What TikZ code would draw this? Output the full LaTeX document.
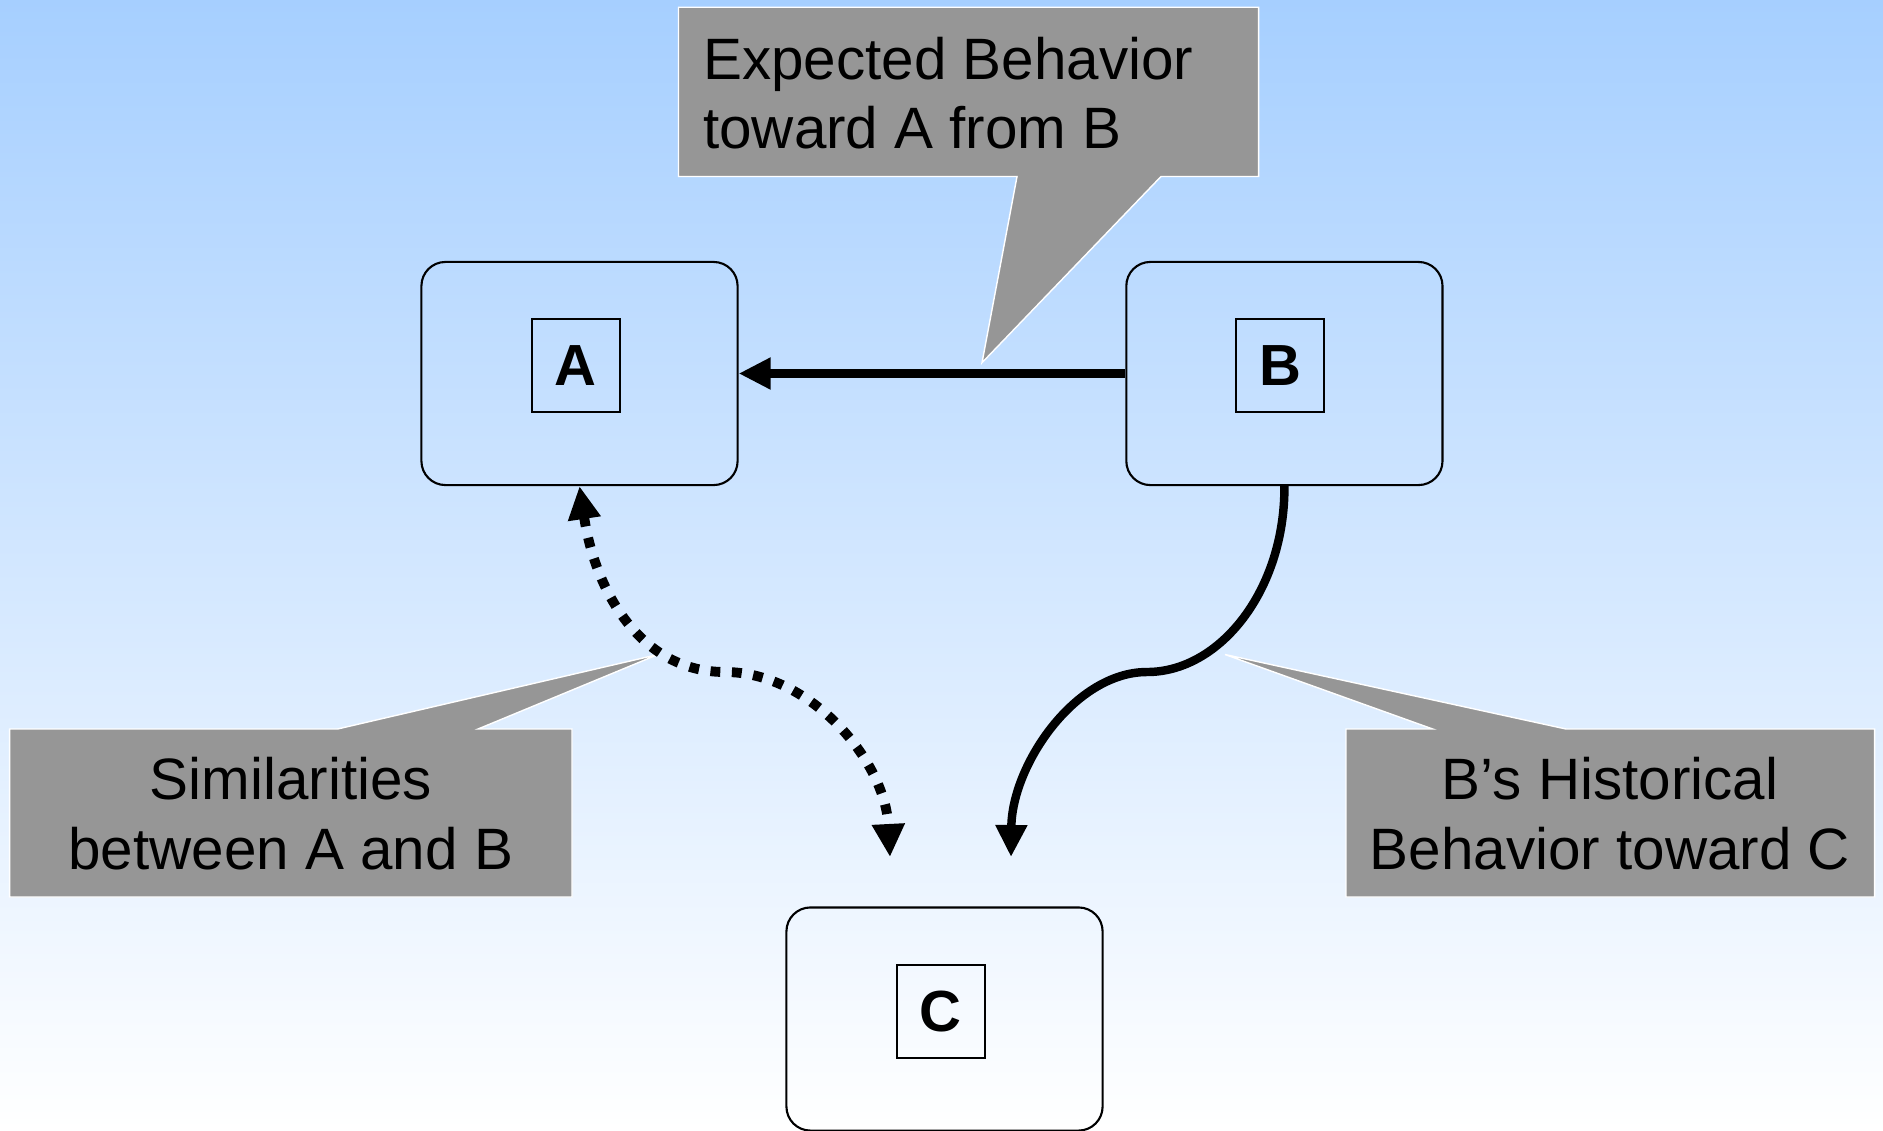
\documentclass[tikz,border=0pt]{standalone}
\usepackage{fontspec}
\setmainfont{Liberation Sans}
\usetikzlibrary{arrows.meta}
\definecolor{skytop}{RGB}{166,207,255}
\definecolor{notegray}{RGB}{150,150,150}

\begin{document}
\begin{tikzpicture}[x=0.01cm, y=0.01cm]
\tikzstyle{every node}+=[inner sep=0pt]
\tikzstyle{party}=[draw=black, line width=0.6pt, rounded corners=2.4mm, minimum width=3.16cm, minimum height=2.23cm]
\tikzstyle{tag}=[draw=black, line width=0.6pt, minimum width=0.88cm, minimum height=0.93cm, font=\fontsize{16.5}{19}\selectfont\bfseries]
\tikzstyle{note}=[fill=notegray, draw=white, line width=0.4pt]
\tikzstyle{notetext}=[font=\fontsize{16.6}{19.9}\selectfont]
\tikzstyle{headed}=[-{Triangle[length=3.2mm,width=3mm]}]
\tikzstyle{twoheaded}=[{Triangle[length=3.3mm,width=3.1mm]}-{Triangle[length=3.3mm,width=3.1mm]}]
\useasboundingbox (0,0) rectangle (1883,-1130);
\shade [top color=skytop, bottom color=white] (0,0) rectangle (1883,-1130);
\path [note] (678.5,-7.2) -- (1258.6,-7.2) -- (1258.6,-176.5) -- (1161,-176.5) -- (982,-362.7) -- (1017,-176.5) -- (678.5,-176.5) -- cycle;
\node [notetext, anchor=north west, align=left] (noteAB) at (702.5,-36) {Expected Behavior\\toward A from B};
\path [note] (9.6,-729) -- (337.5,-729) -- (658,-654.5) -- (478,-729) -- (572,-729) -- (572,-897) -- (9.6,-897) -- cycle;
\node [notetext, anchor=north, align=center] (noteSim) at (290.8,-756.6) {Similarities\\between A and B};
\path [note] (1346,-729) -- (1432.7,-729) -- (1225,-654.5) -- (1566,-729) -- (1874.6,-729) -- (1874.6,-897) -- (1346,-897) -- cycle;
\node [notetext, anchor=north, align=center] (noteHist) at (1610,-756.6) {B’s Historical\\Behavior toward C};
\node [party] (boxA) at (579.5,-373.5) {};
\node [tag] (tagA) at (575.9,-365.7) {A};
\node [party] (boxB) at (1284.4,-373.5) {};
\node [tag] (tagB) at (1280.2,-365.7) {B};
\node [party] (boxC) at (944.5,-1019) {};
\node [tag] (tagC) at (940.9,-1011.2) {C};
\coordinate (endSim) at (890,-857);
\coordinate (endHist) at (1011,-857);
\draw [headed, line width=2.8pt] (boxB.west) -- (boxA.east);
\draw [headed, line width=2.4pt] (boxB.south) .. controls (1285,-590) and (1220,-672) .. (1147,-672) .. controls (1075,-672) and (1012,-765) .. (endHist);
\draw [twoheaded, line width=2.8pt, dash pattern=on 2.8pt off 3.3pt] (boxA.south) .. controls (595,-590) and (640,-672) .. (725,-672) .. controls (810,-672) and (885,-760) .. (endSim);
\end{tikzpicture}
\end{document}
